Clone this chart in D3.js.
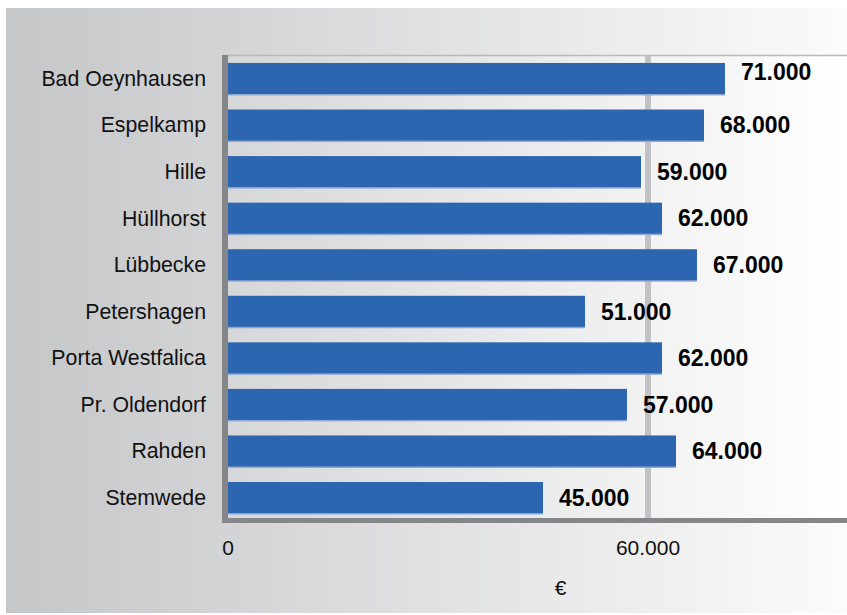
<!DOCTYPE html>
<html>
<head>
<meta charset="utf-8">
<script src="https://cdn.jsdelivr.net/npm/d3@7"></script>
<style>
  html, body { margin: 0; padding: 0; background: #ffffff; }
  svg { display: block; font-family: Arial, "Liberation Sans", Helvetica, sans-serif; }
</style>
</head>
<body>
<svg id="chart" width="847" height="615"></svg>
<script>
// Einkommen je Gemeinde (Euro)
const gemeinden = ["Bad Oeynhausen", "Espelkamp", "Hille", "Hüllhorst", "Lübbecke",
  "Petershagen", "Porta Westfalica", "Pr. Oldendorf", "Rahden", "Stemwede"];
const werte = [71000, 68000, 59000, 62000, 67000, 51000, 62000, 57000, 64000, 45000];
const tickWerte = [0, 60000];
const achsenTitel = "€";

const fmt = v => d3.format(",")(v).replace(/,/g, ".");

const svg = d3.select("#chart");
const W = 847, H = 615;
const plot = { left: 228, top: 55, bottom: 518, right: 893 };

const defs = svg.append("defs");
const bgGrad = defs.append("linearGradient").attr("id", "bgGrad")
  .attr("x1", "0%").attr("x2", "100%").attr("y1", "0%").attr("y2", "0%");
bgGrad.append("stop").attr("offset", "0%").attr("stop-color", "#c5c6c8");
bgGrad.append("stop").attr("offset", "100%").attr("stop-color", "#fbfbfb");

const plotGrad = defs.append("linearGradient").attr("id", "plotGrad")
  .attr("gradientUnits", "userSpaceOnUse")
  .attr("x1", plot.left).attr("x2", W).attr("y1", 0).attr("y2", 0);
plotGrad.append("stop").attr("offset", "0%").attr("stop-color", "#d6d7d9");
plotGrad.append("stop").attr("offset", "100%").attr("stop-color", "#ffffff");

// outer background panel
svg.append("rect").attr("x", 6).attr("y", 8).attr("width", W - 6).attr("height", H - 10)
  .attr("fill", "url(#bgGrad)");

// scales
const x = d3.scaleLinear().domain([0, 95000]).range([plot.left, plot.right]);
const y = d3.scaleBand().domain(gemeinden).range([plot.top, 521])
  .paddingInner(0.334).paddingOuter(0.171);

// plot area
svg.append("rect").attr("x", plot.left).attr("y", plot.top)
  .attr("width", W - plot.left).attr("height", plot.bottom - plot.top)
  .attr("fill", "url(#plotGrad)");
svg.append("line").attr("x1", plot.left).attr("x2", W)
  .attr("y1", plot.top + 0.5).attr("y2", plot.top + 0.5)
  .attr("stroke", "#b8b9bb").attr("stroke-width", 1.5);

// vertical gridlines
svg.append("g").selectAll("line").data(tickWerte.filter(d => d > 0)).join("line")
  .attr("x1", d => x(d)).attr("x2", d => x(d))
  .attr("y1", plot.top).attr("y2", plot.bottom)
  .attr("stroke", "#c1c2c5").attr("stroke-width", 6);

// bars with a light lower edge
const bars = svg.append("g");
bars.selectAll("rect.edge").data(werte).join("rect").attr("class", "edge")
  .attr("x", x(0)).attr("y", (d, i) => y(gemeinden[i]) + 1.5)
  .attr("width", d => x(d) - x(0)).attr("height", y.bandwidth())
  .attr("fill", "#8ea7d2");
bars.selectAll("rect.bar").data(werte).join("rect").attr("class", "bar")
  .attr("x", x(0)).attr("y", (d, i) => y(gemeinden[i]))
  .attr("width", d => x(d) - x(0)).attr("height", y.bandwidth())
  .attr("fill", "#2c65b0");

// value labels
svg.append("g").selectAll("text").data(werte).join("text")
  .attr("x", d => x(d) + 16)
  .attr("y", (d, i) => y(gemeinden[i]) + y.bandwidth() / 2 + (i === 0 ? -7 : 0))
  .attr("dy", "0.36em")
  .attr("font-size", 23).attr("font-weight", "bold").attr("fill", "#000")
  .text(d => fmt(d));

// axes lines
svg.append("line").attr("x1", 225).attr("x2", 225).attr("y1", plot.top).attr("y2", 523)
  .attr("stroke", "#858689").attr("stroke-width", 6);
svg.append("line").attr("x1", 222).attr("x2", W).attr("y1", 520.5).attr("y2", 520.5)
  .attr("stroke", "#858689").attr("stroke-width", 5);

// category labels
svg.append("g").selectAll("text").data(gemeinden).join("text")
  .attr("x", 206).attr("y", d => y(d) + y.bandwidth() / 2).attr("dy", "0.35em")
  .attr("text-anchor", "end").attr("font-size", 21.3).attr("fill", "#111")
  .text(d => d);

// tick labels
svg.append("g").selectAll("text").data(tickWerte).join("text")
  .attr("x", d => x(d)).attr("y", 555)
  .attr("text-anchor", "middle").attr("font-size", 21).attr("fill", "#111")
  .text(d => fmt(d));

// axis title
svg.append("text").attr("x", (plot.left + plot.right) / 2).attr("y", 595)
  .attr("text-anchor", "middle").attr("font-size", 21).attr("fill", "#111")
  .text(achsenTitel);
</script>
</body>
</html>
